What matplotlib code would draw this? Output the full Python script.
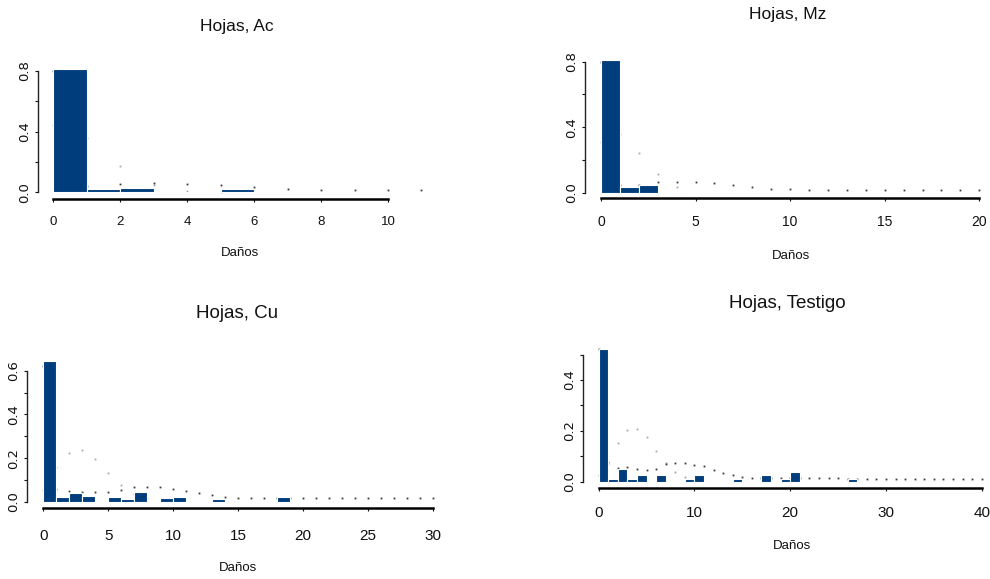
import numpy as np
import matplotlib
matplotlib.use("Agg")
import matplotlib.pyplot as plt

# ---- data: relative frequency per damage count (bins of width 1) ----
bars_ac = [0.81, 0.02, 0.028, 0.005, 0.005, 0.02, 0.003, 0, 0, 0, 0]
pois_ac = [0.44, 0.36, 0.173, 0.05, 0.01, 0.002]
nb_ac = [0.80, 0.04, 0.053, 0.06, 0.055, 0.048, 0.033, 0.022, 0.015, 0.013,
         0.012, 0.012]

bars_mz = [0.81, 0.033, 0.045, 0, 0, 0, 0, 0.006, 0, 0,
           0, 0, 0, 0, 0, 0, 0, 0, 0, 0]
pois_mz = [0.31, 0.36, 0.244, 0.112, 0.035]
nb_mz = [0.80, 0.05, 0.05, 0.063, 0.067, 0.067, 0.057, 0.047, 0.037, 0.023,
         0.02, 0.016, 0.016, 0.016, 0.016, 0.016, 0.016, 0.016, 0.016, 0.016,
         0.016]

bars_cu = [0.646, 0.02, 0.038, 0.028, 0, 0.02, 0.012, 0.046, 0.003, 0.015,
           0.02, 0, 0.003, 0.012, 0.003, 0, 0, 0, 0.022, 0,
           0, 0.003, 0, 0, 0, 0, 0, 0, 0, 0]
pois_cu = [0.054, 0.16, 0.222, 0.237, 0.197, 0.133, 0.076, 0.035, 0.015, 0.005]
nb_cu = [0.62, 0.06, 0.05, 0.045, 0.045, 0.043, 0.055, 0.066, 0.066, 0.066,
         0.057, 0.05, 0.041, 0.031, 0.022, 0.018, 0.018, 0.018, 0.018, 0.018,
         0.018, 0.018, 0.018, 0.018, 0.018, 0.018, 0.018, 0.018, 0.018, 0.018,
         0.018]

bars_te = [0.523, 0.012, 0.05, 0.012, 0.026, 0, 0.026, 0.003, 0, 0.012,
           0.026, 0, 0.003, 0, 0.012, 0, 0.003, 0.026, 0.003, 0.012,
           0.038, 0.003, 0, 0, 0, 0, 0.012, 0, 0, 0,
           0, 0, 0, 0, 0, 0, 0, 0, 0, 0]
pois_te = [0.026, 0.07, 0.154, 0.204, 0.208, 0.174, 0.122, 0.075, 0.04, 0.02]
nb_te = [0.52, 0.079, 0.055, 0.059, 0.05, 0.045, 0.05, 0.07, 0.072, 0.072,
         0.066, 0.06, 0.046, 0.036, 0.026, 0.02, 0.015, 0.015, 0.015, 0.015,
         0.015, 0.015, 0.015, 0.015, 0.015, 0.015, 0.012, 0.012, 0.012, 0.012,
         0.012, 0.012, 0.012, 0.012, 0.012, 0.012, 0.012, 0.012, 0.012, 0.012,
         0.012]

titles = ["Hojas, Ac", "Hojas, Mz", "Hojas, Cu", "Hojas, Testigo"]
xlabel = "Daños"

# ---- layout (pixel calibration of each panel) ----
W, H = 990, 579
NARROW = ["Liberation Sans Narrow", "Liberation Sans", "DejaVu Sans"]
BAR = "#003d7c"

panels = [
    dict(bars=bars_ac, pois=pois_ac, nb=nb_ac, title=titles[0],
         cal=(0, 53.3, 10, 388.0, 0, 192.3, 0.8, 70.7),
         xlim=(-0.15, 11.2), ylim=(-0.004, 0.85),
         yax_px=38.0, xax_px=199.0,
         xticks=np.arange(0, 11, 2), yticks=np.arange(0, 0.81, 0.2),
         ylabels=[0.0, 0.4, 0.8], xbound=(0, 10), ybound=(0, 0.8),
         fs=9.5, pad=10.0, title_xy=(237, 26), title_fs=12.5,
         xl_xy=(240, 253)),
    dict(bars=bars_mz, pois=pois_mz, nb=nb_mz, title=titles[1],
         cal=(0, 601.0, 20, 979.3, 0, 192.7, 0.8, 61.7),
         xlim=(-0.3, 20.3), ylim=(-0.004, 0.85),
         yax_px=585.0, xax_px=198.0,
         xticks=np.arange(0, 21, 5), yticks=np.arange(0, 0.81, 0.2),
         ylabels=[0.0, 0.4, 0.8], xbound=(0, 20), ybound=(0, 0.8),
         fs=10, pad=9.5, title_xy=(788, 15), title_fs=12.5,
         xl_xy=(791, 256)),
    dict(bars=bars_cu, pois=pois_cu, nb=nb_cu, title=titles[2],
         cal=(0, 43.3, 30, 432.7, 0, 501.7, 0.6, 370.7),
         xlim=(-0.4, 30.3), ylim=(-0.006, 0.66),
         yax_px=26.7, xax_px=508.3,
         xticks=np.arange(0, 31, 5), yticks=np.arange(0, 0.61, 0.1),
         ylabels=[0.0, 0.2, 0.4, 0.6], xbound=(0, 30), ybound=(0, 0.6),
         fs=11, pad=12.5, title_xy=(237, 313), title_fs=13.5,
         xl_xy=(238, 568)),
    dict(bars=bars_te, pois=pois_te, nb=nb_te, title=titles[3],
         cal=(0, 598.7, 40, 981.7, 0, 481.7, 0.4, 380.0),
         xlim=(-0.5, 40.3), ylim=(-0.006, 0.53),
         yax_px=583.3, xax_px=488.3,
         xticks=np.arange(0, 41, 10), yticks=np.arange(0, 0.51, 0.1),
         ylabels=[0.0, 0.2, 0.4], xbound=(0, 40), ybound=(0, 0.5),
         fs=11, pad=10.0, title_xy=(787, 303), title_fs=13.5,
         xl_xy=(792, 546)),
]

fig = plt.figure(figsize=(W / 100, H / 100), dpi=100)
fig.patch.set_facecolor("white")

for p in panels:
    xa, pxa, xb, pxb, ya, pya, yb, pyb = p["cal"]
    sx = (pxb - pxa) / (xb - xa)
    sy = (pyb - pya) / (yb - ya)
    left = pxa + (p["xlim"][0] - xa) * sx
    right = pxa + (p["xlim"][1] - xa) * sx
    top = pya + (p["ylim"][1] - ya) * sy
    bottom = pya + (p["ylim"][0] - ya) * sy
    ax = fig.add_axes([left / W, 1 - bottom / H, (right - left) / W,
                       (bottom - top) / H])
    ax.set_xlim(*p["xlim"])
    ax.set_ylim(*p["ylim"])
    ax.patch.set_alpha(0)

    nbin = len(p["bars"])
    ax.bar(np.arange(nbin), p["bars"], width=1.0, align="edge",
           color=BAR, edgecolor="white", linewidth=0.8, zorder=2)

    # fitted probabilities at each integer count, drawn as tiny points
    xp = np.arange(len(p["pois"]))
    ax.plot(xp, p["pois"], linestyle="none", marker="s", markersize=1.3,
            markeredgewidth=0, color="#a8a8a8", zorder=1, clip_on=False)
    xn = np.arange(len(p["nb"]))
    ax.plot(xn, p["nb"], linestyle="none", marker="s", markersize=1.3,
            markeredgewidth=0, color="#3a3a3a", zorder=1, clip_on=False)

    for s in ("top", "right"):
        ax.spines[s].set_visible(False)
    ax.spines["left"].set_position(("outward", (left - p["yax_px"]) * 0.72))
    ax.spines["bottom"].set_position(("outward", (p["xax_px"] - bottom) * 0.72))
    ax.spines["left"].set_bounds(*p["ybound"])
    ax.spines["bottom"].set_bounds(*p["xbound"])
    ax.spines["left"].set_linewidth(1.0)
    ax.spines["left"].set_color("#222222")
    ax.spines["bottom"].set_linewidth(1.8)

    ax.set_xticks(p["xticks"])
    ax.set_xticklabels([str(int(v)) for v in p["xticks"]],
                       family=NARROW, fontsize=p["fs"])
    ax.set_yticks(p["yticks"])
    ylabs = [("%.1f" % v) if any(abs(v - l) < 1e-9 for l in p["ylabels"])
             else "" for v in p["yticks"]]
    ax.set_yticklabels(ylabs, family="DejaVu Sans", fontsize=9.5)
    ax.tick_params(axis="x", direction="out", length=2.5, width=0.8,
                   pad=p["pad"], colors="#111111")
    ax.tick_params(axis="y", direction="out", length=2.5, width=0.8,
                   pad=2.5, labelrotation=90, colors="#111111")
    for t in ax.get_yticklabels():
        t.set_va("center")

    fig.text(p["title_xy"][0] / W, 1 - p["title_xy"][1] / H, p["title"],
             ha="center", va="center", fontsize=p["title_fs"],
             family=NARROW, color="#111111")
    fig.text(p["xl_xy"][0] / W, 1 - p["xl_xy"][1] / H, xlabel,
             ha="center", va="center", fontsize=9.5,
             family=NARROW, color="#111111")

fig.savefig("out.png", dpi=100, facecolor="white")
